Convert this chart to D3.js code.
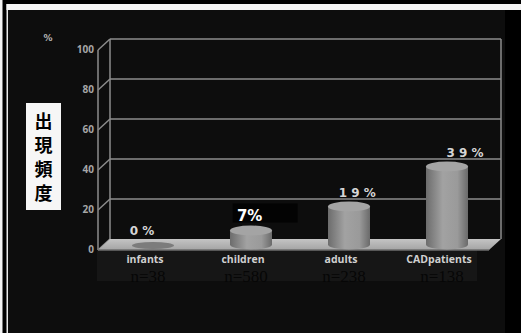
<!DOCTYPE html>
<html><head><meta charset="utf-8">
<script src="https://cdn.jsdelivr.net/npm/d3@7"></script>
<style>html,body{margin:0;padding:0;background:#000;overflow:hidden}</style>
</head><body>
<script>
const categories = ["infants","children","adults","CADpatients"];
const values = [0, 7, 19, 39];
const valueLabels = ["0 %","7%","1 9 %","3 9 %"];
const sampleLabels = ["n=38","n=580","n=238","n=138"];
const yTicks = [0,20,40,60,80,100];
const yTitle = "出現頻度";
const unitLabel = "%";

const W = 521, H = 333;
const svg = d3.select("body").append("svg").attr("width", W).attr("height", H);
const defs = svg.append("defs");

// frame / background
svg.append("rect").attr("width", W).attr("height", H).attr("fill", "#000");
svg.append("rect").attr("x", 8).attr("y", 10).attr("width", 497).attr("height", H-10).attr("fill", "#0d0d0d");
svg.append("rect").attr("x", 0).attr("y", 0).attr("width", 2.5).attr("height", H).attr("fill", "#f2f2f2");
svg.append("rect").attr("x", 6.5).attr("y", 4).attr("width", 1.5).attr("height", H-4).attr("fill", "#e8e8e8");
svg.append("rect").attr("x", 6.5).attr("y", 4).attr("width", W-6.5).attr("height", 6).attr("fill", "#f4f4f4");

// 3D geometry
const dx = 12, dy = -11;
const left = 98, right = 489;
const yFront = d3.scaleLinear().domain([0,100]).range([250, 50]);
const yBack = v => yFront(v) + dy;
const yMid = v => yFront(v) + dy/2;
const x = d3.scaleBand().domain(categories).range([104, 496]).padding(0);
const xLabel = d3.scalePoint().domain(categories).range([142, 465]);

// label band background
svg.append("rect").attr("x", 97).attr("y", 250).attr("width", 380).attr("height", 31).attr("fill", "#161616");

const gridColor = "#8c8c8c";
const g = svg.append("g");
// back wall horizontal lines
g.selectAll("line.h").data(yTicks.slice(1)).join("line")
  .attr("x1", left+dx).attr("x2", right+dx)
  .attr("y1", d => yBack(d)).attr("y2", d => yBack(d))
  .attr("stroke", gridColor).attr("stroke-width", 1.5);
// diagonal ticks on left side wall
g.selectAll("line.d").data(yTicks).join("line")
  .attr("x1", left).attr("y1", d => yFront(d))
  .attr("x2", left+dx).attr("y2", d => yBack(d))
  .attr("stroke", gridColor).attr("stroke-width", 1.5);
// verticals
g.append("line").attr("x1", left).attr("x2", left).attr("y1", yFront(100)).attr("y2", yFront(0)).attr("stroke", gridColor).attr("stroke-width", 1.5);
g.append("line").attr("x1", left+dx).attr("x2", left+dx).attr("y1", yBack(100)).attr("y2", yBack(0)).attr("stroke", gridColor).attr("stroke-width", 1.5);
g.append("line").attr("x1", right+dx).attr("x2", right+dx).attr("y1", yBack(100)).attr("y2", yBack(0)).attr("stroke", gridColor).attr("stroke-width", 1.5);

// floor
const floorGrad = defs.append("linearGradient").attr("id","floorG").attr("x1",0).attr("y1",0).attr("x2",0).attr("y2",1);
floorGrad.append("stop").attr("offset","0%").attr("stop-color","#c4c4c4");
floorGrad.append("stop").attr("offset","100%").attr("stop-color","#a4a4a4");
svg.append("path")
  .attr("d", `M${left},${yFront(0)} L${left+dx},${yBack(0)} L${right+dx},${yBack(0)} L${right},${yFront(0)} Z`)
  .attr("fill", "url(#floorG)");
svg.append("line").attr("x1", left).attr("x2", right).attr("y1", yFront(0)).attr("y2", yFront(0))
  .attr("stroke", "#6e6e6e").attr("stroke-width", 1.5);

// y tick labels
svg.append("g").selectAll("text").data(yTicks).join("text")
  .attr("x", 94).attr("y", d => yFront(d) - 1).attr("dy", "0.35em")
  .attr("text-anchor", "end")
  .attr("font-family", "'Open Sans', sans-serif").attr("font-weight", 700).attr("font-size", 10)
  .attr("fill", "#a6a6a6").text(d => d);

// unit label
svg.append("text").attr("x", 48).attr("y", 41).attr("text-anchor", "middle")
  .attr("font-family", "'DejaVu Sans', sans-serif").attr("font-weight", 700).attr("font-size", 9)
  .attr("fill", "#b8b8b8").text(unitLabel);

// cylinders
const cylGrad = defs.append("linearGradient").attr("id","cylG").attr("x1",0).attr("y1",0).attr("x2",1).attr("y2",0);
cylGrad.append("stop").attr("offset","0%").attr("stop-color","#6c6c6c");
cylGrad.append("stop").attr("offset","40%").attr("stop-color","#a2a2a2");
cylGrad.append("stop").attr("offset","75%").attr("stop-color","#9a9a9a");
cylGrad.append("stop").attr("offset","100%").attr("stop-color","#6a6a6a");
const rx = 21, ry = 5;
const bars = svg.append("g").selectAll("g").data(categories).join("g");
bars.each(function(c, i) {
  const el = d3.select(this);
  const cx = x(c) + x.bandwidth()/2;
  const yb = yMid(0), yt = yMid(values[i]);
  if (values[i] > 0) {
    el.append("path")
      .attr("d", `M${cx-rx},${yt} L${cx-rx},${yb} A${rx},${ry} 0 0 0 ${cx+rx},${yb} L${cx+rx},${yt} Z`)
      .attr("fill", "url(#cylG)");
    el.append("ellipse").attr("cx", cx).attr("cy", yt).attr("rx", rx).attr("ry", ry).attr("fill", "#a4a4a4");
  } else {
    el.append("ellipse").attr("cx", cx).attr("cy", yt+1).attr("rx", rx).attr("ry", ry-1.5).attr("fill", "#7c7c7c");
  }
});

// value labels
svg.append("g").selectAll("g").data(categories).join("g").each(function(c, i) {
  const el = d3.select(this);
  const lx = xLabel(c);
  const ly = yMid(values[i]) - ry - 5;
  if (i === 1) {
    el.append("rect").attr("x", lx - 17).attr("y", ly - 17).attr("width", 65).attr("height", 19).attr("fill", "#030303");
    el.append("text").attr("x", lx).attr("y", ly).attr("text-anchor", "middle")
      .attr("font-family", "'DejaVu Sans', sans-serif").attr("font-weight", 700).attr("font-size", 15)
      .attr("fill", "#ffffff").text(valueLabels[i]);
  } else {
    el.append("text").attr("x", lx).attr("y", ly).attr("text-anchor", "middle")
      .attr("font-family", "'DejaVu Sans', sans-serif").attr("font-weight", 700).attr("font-size", 12)
      .attr("fill", "#d6d6d6").text(valueLabels[i]);
  }
});

// category labels
svg.append("g").selectAll("text").data(categories).join("text")
  .attr("x", c => x(c) + x.bandwidth()/2 - 8).attr("y", 263)
  .attr("text-anchor", "middle")
  .attr("font-family", "'Open Sans', sans-serif").attr("font-weight", 700).attr("font-size", 10.5)
  .attr("fill", "#d0d0d0").text(c => c);

// sample size labels
svg.append("g").selectAll("text").data(categories).join("text")
  .attr("x", (c, i) => x(c) + x.bandwidth()/2 - 5).attr("y", 282)
  .attr("text-anchor", "middle")
  .attr("font-family", "'Liberation Serif', serif").attr("font-size", 17)
  .attr("fill", "#060606").text((c, i) => sampleLabels[i]);

// y title box
svg.append("rect").attr("x", 26).attr("y", 103).attr("width", 35).attr("height", 107).attr("fill", "#f6f6f6");
svg.append("g").selectAll("text").data(Array.from(yTitle)).join("text")
  .attr("x", 43.5).attr("y", (d, i) => 122 + i * 23.7).attr("dy", "0.36em")
  .attr("text-anchor", "middle")
  .attr("font-family", "'Noto Sans CJK JP', sans-serif").attr("font-weight", 700).attr("font-size", 18)
  .attr("fill", "#000").text(d => d);
</script>
</body></html>
